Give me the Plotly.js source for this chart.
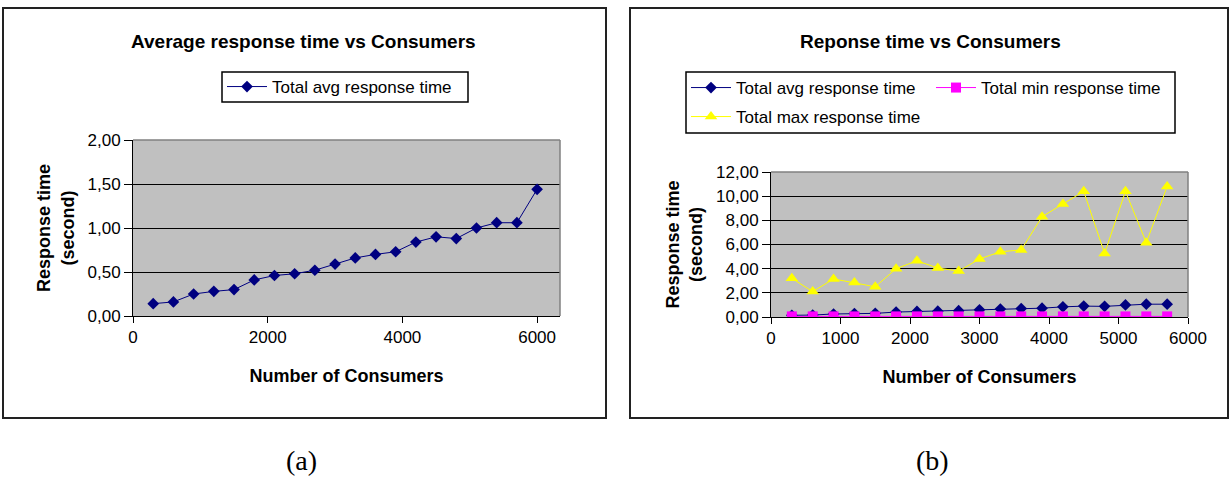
<!DOCTYPE html>
<html>
<head>
<meta charset="utf-8">
<script src="https://cdn.plot.ly/plotly-3.0.1.min.js"></script>
<style>
  html, body { margin: 0; padding: 0; background: #ffffff; }
  #chart { width: 1231px; height: 477px; }
</style>
</head>
<body>
<div id="chart"></div>
<script>
// ---------- data ----------
const consumersA = [300, 600, 900, 1200, 1500, 1800, 2100, 2400, 2700, 3000, 3300, 3600, 3900, 4200, 4500, 4800, 5100, 5400, 5700, 6000];
const avgA = [0.14, 0.16, 0.25, 0.28, 0.30, 0.41, 0.46, 0.48, 0.52, 0.59, 0.66, 0.70, 0.73, 0.84, 0.90, 0.88, 1.00, 1.06, 1.06, 1.44];

const consumersB = [300, 600, 900, 1200, 1500, 1800, 2100, 2400, 2700, 3000, 3300, 3600, 3900, 4200, 4500, 4800, 5100, 5400, 5700];
const avgB = [0.14, 0.16, 0.25, 0.28, 0.30, 0.41, 0.46, 0.48, 0.52, 0.59, 0.66, 0.70, 0.73, 0.84, 0.90, 0.88, 1.00, 1.06, 1.06];
const minB = [0.05, 0.05, 0.05, 0.05, 0.05, 0.05, 0.05, 0.05, 0.05, 0.05, 0.05, 0.05, 0.05, 0.05, 0.05, 0.05, 0.05, 0.05, 0.05];
const maxB = [3.2, 2.1, 3.15, 2.85, 2.5, 4.0, 4.65, 4.05, 3.8, 4.8, 5.4, 5.55, 8.3, 9.35, 10.4, 5.25, 10.4, 6.15, 10.8];

const titleA = "Average response time vs Consumers";
const titleB = "Reponse time vs Consumers";
const xTitle = "Number of Consumers";
const yTitle = "Response time<br>(second)";
const nameAvg = "Total avg response time";
const nameMin = "Total min response time";
const nameMax = "Total max response time";
const ticksXA = [0, 2000, 4000, 6000];
const ticksXB = [0, 1000, 2000, 3000, 4000, 5000, 6000];

// ---------- layout helpers (pixel -> paper) ----------
const W = 1231, H = 477;
const X = p => p / W;
const Y = p => 1 - p / H;

const FONT = "Liberation Sans, Arial, sans-serif";
const NAVY = "#000080", MAG = "#FF00FF", YEL = "#FFFF00";

const traces = [
  { x: consumersA, y: avgA, name: nameAvg, type: "scatter", mode: "lines+markers",
    xaxis: "x", yaxis: "y", legend: "legend",
    line: { color: NAVY, width: 1 },
    marker: { symbol: "diamond", size: 9, color: NAVY, line: { width: 0 } } },
  { x: consumersB, y: avgB, name: nameAvg, type: "scatter", mode: "lines+markers",
    xaxis: "x2", yaxis: "y2", legend: "legend2",
    line: { color: NAVY, width: 1 },
    marker: { symbol: "diamond", size: 9, color: NAVY, line: { width: 0 } } },
  { x: consumersB, y: minB, name: nameMin, type: "scatter", mode: "lines+markers",
    xaxis: "x2", yaxis: "y2", legend: "legend3",
    line: { color: MAG, width: 1 },
    marker: { symbol: "square", size: 10, color: MAG, line: { width: 0 } } },
  { x: consumersB, y: maxB, name: nameMax, type: "scatter", mode: "lines+markers",
    xaxis: "x2", yaxis: "y2", legend: "legend4",
    line: { color: YEL, width: 1 },
    marker: { symbol: "triangle-up", size: 11, color: YEL, line: { width: 0 } } }
];

const tickFont = { family: FONT, size: 17, color: "#000" };
const axTitleFont = { family: FONT, size: 18, color: "#000" };

function xAxis(domain, range, tickvals, anchor) {
  return {
    domain: domain, range: range, tickvals: tickvals, anchor: anchor,
    showline: true, linecolor: "#000", linewidth: 1, mirror: false,
    ticks: "outside", ticklen: 6, tickcolor: "#000", tickwidth: 1,
    showgrid: false, zeroline: false, tickfont: tickFont,
    title: { text: "<b>" + xTitle + "</b>", font: axTitleFont, standoff: 22 },
    fixedrange: true
  };
}
function yAxis(domain, range, dtick, anchor) {
  return {
    domain: domain, range: range, dtick: dtick, tick0: 0, anchor: anchor,
    tickformat: ".2f",
    showline: true, linecolor: "#000", linewidth: 1,
    ticks: "outside", ticklen: 8, tickcolor: "#000", tickwidth: 1,
    showgrid: true, gridcolor: "#000", gridwidth: 1, zeroline: false,
    tickfont: tickFont,
    title: { text: "<b>" + yTitle + "</b>", font: axTitleFont, standoff: 8 },
    fixedrange: true
  };
}

function legendAt(px, py) {
  return {
    x: X(px), y: Y(py), xanchor: "left", yanchor: "middle",
    bgcolor: "rgba(0,0,0,0)", borderwidth: 0,
    font: { family: FONT, size: 17, color: "#000" },
    itemwidth: 40, tracegroupgap: 0
  };
}

const layout = {
  width: W, height: H,
  margin: { l: 0, r: 0, t: 0, b: 0 },
  paper_bgcolor: "#ffffff",
  plot_bgcolor: "#C0C0C0",
  separators: ",.",
  font: { family: FONT, color: "#000" },
  showlegend: true,
  xaxis: xAxis([X(133), X(560)], [0, 6340], ticksXA, "y"),
  yaxis: yAxis([Y(316), Y(140)], [0, 2], 0.5, "x"),
  xaxis2: xAxis([X(771), X(1188)], [0, 6000], ticksXB, "y2"),
  yaxis2: yAxis([Y(317), Y(172)], [0, 12], 2, "x2"),
  legend: legendAt(222, 87),
  legend2: legendAt(686, 88),
  legend3: legendAt(931, 88),
  legend4: legendAt(686, 117),
  shapes: [
    // outer frames
    { type: "rect", xref: "paper", yref: "paper", x0: X(3), x1: X(606), y0: Y(418), y1: Y(8),
      line: { color: "#222", width: 2 }, fillcolor: "rgba(0,0,0,0)" },
    { type: "rect", xref: "paper", yref: "paper", x0: X(630), x1: X(1228), y0: Y(418), y1: Y(8),
      line: { color: "#222", width: 2 }, fillcolor: "rgba(0,0,0,0)" },
    // legend boxes
    { type: "rect", xref: "paper", yref: "paper", x0: X(222), x1: X(468), y0: Y(102), y1: Y(72),
      line: { color: "#000", width: 1.5 }, fillcolor: "rgba(0,0,0,0)" },
    { type: "rect", xref: "paper", yref: "paper", x0: X(686), x1: X(1175), y0: Y(133), y1: Y(72),
      line: { color: "#000", width: 1.5 }, fillcolor: "rgba(0,0,0,0)" },
    // gray plot-area borders (top, right)
    { type: "line", xref: "x domain", yref: "y domain", x0: 0, x1: 1, y0: 1, y1: 1, line: { color: "#808080", width: 1.5 } },
    { type: "line", xref: "x domain", yref: "y domain", x0: 1, x1: 1, y0: 0, y1: 1, line: { color: "#808080", width: 1.5 } },
    { type: "line", xref: "x2 domain", yref: "y2 domain", x0: 0, x1: 1, y0: 1, y1: 1, line: { color: "#808080", width: 1.5 } },
    { type: "line", xref: "x2 domain", yref: "y2 domain", x0: 1, x1: 1, y0: 0, y1: 1, line: { color: "#808080", width: 1.5 } }
  ],
  annotations: [
    { text: "<b>" + titleA + "</b>", xref: "paper", yref: "paper", x: X(303), y: Y(41),
      xanchor: "center", yanchor: "middle", showarrow: false, font: { family: FONT, size: 19, color: "#000" } },
    { text: "<b>" + titleB + "</b>", xref: "paper", yref: "paper", x: X(930), y: Y(41),
      xanchor: "center", yanchor: "middle", showarrow: false, font: { family: FONT, size: 19, color: "#000" } },
    { text: "(a)", xref: "paper", yref: "paper", x: X(301), y: Y(460),
      xanchor: "center", yanchor: "middle", showarrow: false, font: { family: "Liberation Serif, DejaVu Serif, serif", size: 28, color: "#000" } },
    { text: "(b)", xref: "paper", yref: "paper", x: X(932), y: Y(460),
      xanchor: "center", yanchor: "middle", showarrow: false, font: { family: "Liberation Serif, DejaVu Serif, serif", size: 28, color: "#000" } }
  ]
};

Plotly.newPlot("chart", traces, layout, { displayModeBar: false, staticPlot: true });
</script>
</body>
</html>
